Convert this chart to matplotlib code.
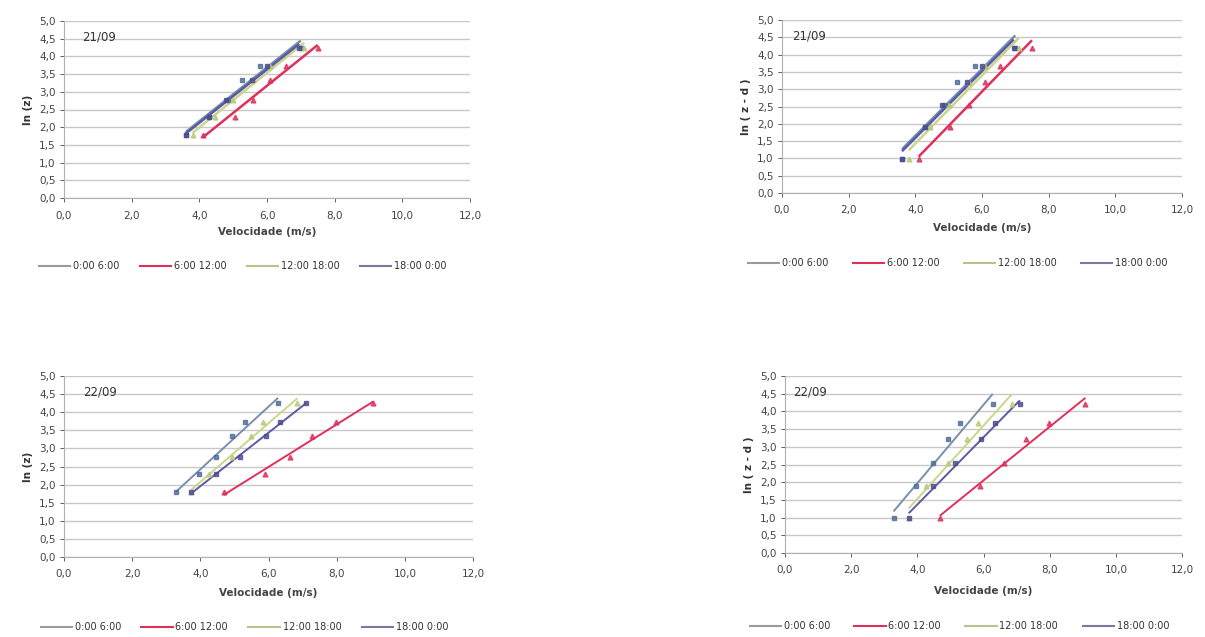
import numpy as np
import matplotlib
matplotlib.use("Agg")
import matplotlib.pyplot as plt
from matplotlib.lines import Line2D

plt.rcParams['font.family'] = ['DejaVu Sans']

series_names = ["0:00 6:00", "6:00 12:00", "12:00 18:00", "18:00 0:00"]

# heights in log form
ln_z = [1.79, 2.30, 2.77, 3.33, 3.74, 4.25]
ln_zd = [0.99, 1.90, 2.54, 3.21, 3.66, 4.20]

# velocities (m/s), 21/09
v21_s1 = [3.60, 4.30, 4.85, 5.25, 5.80, 7.00]
v21_s2 = [4.10, 5.05, 5.60, 6.10, 6.55, 7.50]
v21_s3 = [3.80, 4.45, 5.00, 5.60, 6.10, 7.10]
v21_s4 = [3.60, 4.30, 4.80, 5.55, 6.00, 6.95]

# velocities (m/s), 22/09
v22_s1 = [3.28, 3.96, 4.47, 4.93, 5.30, 6.28]
v22_s2 = [4.68, 5.90, 6.62, 7.28, 7.98, 9.08]
v22_s3 = [3.74, 4.25, 4.92, 5.49, 5.83, 6.85]
v22_s4 = [3.74, 4.47, 5.15, 5.92, 6.34, 7.10]

xticks = [0, 2, 4, 6, 8, 10, 12]
yticks = [0, 0.5, 1, 1.5, 2, 2.5, 3, 3.5, 4, 4.5, 5]

line_colors = ["#7790ab", "#e0305a", "#c9d68c", "#5b5aa6"]
marker_colors = ["#4f6a95", "#d8305a", "#b8c878", "#4a4a90"]
markers = ["s", "^", "^", "s"]
legend_colors = ["#9a9a9a", "#e0305a", "#b5c48a", "#7a7aa0"]

W, H = 1205, 637
fig = plt.figure(figsize=(W / 100, H / 100), dpi=100)


def fmt(v):
    return f"{v:.1f}".replace(".", ",")


def panel(px_left, px_right, py_top, py_bottom, xs_list, ys, ylabel, date,
          date_x, xlabel_y, legend_y, lw, colspace):
    ax = fig.add_axes([px_left / W, 1 - py_bottom / H,
                       (px_right - px_left) / W, (py_bottom - py_top) / H])
    for i, xs in enumerate(xs_list):
        xs_a = np.array(xs)
        ys_a = np.array(ys)
        k, b = np.polyfit(xs_a, ys_a, 1)
        xl = np.array([xs_a.min(), xs_a.max()])
        ax.plot(xl, k * xl + b, color=line_colors[i], lw=lw, zorder=3,
                solid_capstyle='butt')
        ax.plot(xs_a, ys_a, linestyle='none', marker=markers[i], ms=3.5,
                color=marker_colors[i], alpha=0.8, zorder=4)
    ax.set_xlim(0, 12)
    ax.set_ylim(0, 5)
    ax.set_xticks(xticks)
    ax.set_xticklabels([fmt(v) for v in xticks])
    ax.set_yticks(yticks)
    ax.set_yticklabels([fmt(v) for v in yticks])
    ax.tick_params(labelsize=7.5, colors="#444444", length=3, width=0.6,
                   pad=3)
    ax.tick_params(axis='x', pad=6)
    ax.grid(axis='y', color="#c8c8c8", lw=1.0)
    ax.set_axisbelow(True)
    for s in ['top', 'right']:
        ax.spines[s].set_visible(False)
    for s in ['left', 'bottom']:
        ax.spines[s].set_color("#b0b0b0")
        ax.spines[s].set_linewidth(0.8)
    ax.set_ylabel(ylabel, fontsize=7.5, fontweight='bold', color="#333333",
                  labelpad=4)
    ax.text(date_x, 4.55, date, fontsize=8.5, color="#333333",
            va='center', ha='left')
    fig.text((px_left + px_right) / 2 / W, 1 - xlabel_y / H,
             "Velocidade (m/s)", fontsize=7.5, fontweight='bold',
             color="#444444", ha='center', va='center')
    handles = [Line2D([0], [0], color=legend_colors[i], lw=1.5)
               for i in range(4)]
    fig.legend(handles, series_names, loc='center',
               bbox_to_anchor=((px_left + px_right) / 2 / W - 0.02,
                               1 - legend_y / H),
               ncol=4, frameon=False, fontsize=7, handlelength=3.2,
               columnspacing=colspace, handletextpad=0.3,
               labelcolor="#333333")
    return ax


panel(64, 470, 21, 198, [v21_s1, v21_s2, v21_s3, v21_s4], ln_z, "ln (z)",
      "21/09", 0.55, 232, 266, 1.8, 2.1)
panel(782, 1182, 20, 193, [v21_s1, v21_s2, v21_s3, v21_s4], ln_zd,
      "ln ( z - d )", "21/09", 0.3, 228, 263, 1.8, 2.5)
panel(64, 473, 376, 557, [v22_s1, v22_s2, v22_s3, v22_s4], ln_z, "ln (z)",
      "22/09", 0.55, 593, 627, 1.4, 2.1)
panel(785, 1182, 376, 553, [v22_s1, v22_s2, v22_s3, v22_s4], ln_zd,
      "ln ( z - d )", "22/09", 0.25, 591, 626, 1.4, 2.5)

fig.savefig("out.png", dpi=100, facecolor="white")
